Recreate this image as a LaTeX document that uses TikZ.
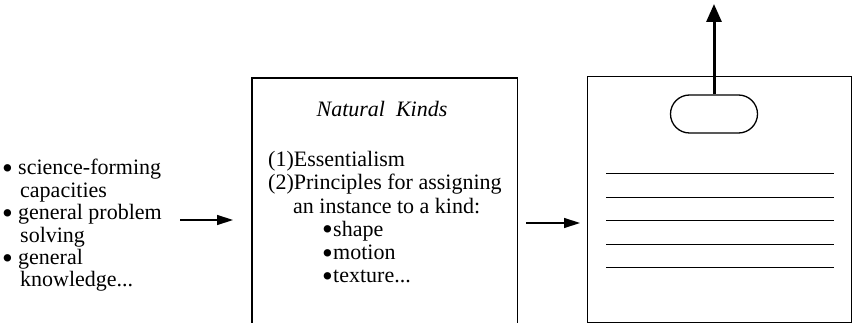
\documentclass[tikz,border=0pt]{standalone}
\usepackage{fontspec}
\setmainfont{Liberation Serif}
\usetikzlibrary{arrows.meta}

\tikzset{
  box/.style={line width=1.3pt},
  rule/.style={line width=1pt},
  flow/.style={-{Triangle[length=16pt,width=10pt]}, line width=1.4pt},
  outflow/.style={-{Triangle[length=18pt,width=15pt]}, line width=3pt},
  txt/.style={align=left, inner sep=0pt, font=\fontsize{22}{23.3}\selectfont},
}
\newcommand{\itm}[1][16pt]{\makebox[#1][l]{\raisebox{-0.16em}{\scalebox{1.4}{•}}}}

\begin{document}
\begin{tikzpicture}[x=1pt,y=-1pt]
    \useasboundingbox (0,0) rectangle (852,323);

    % sources (base = last line)
    \node[txt, font=\fontsize{22}{22.4}\selectfont, anchor=base west] (list) at (2,287)
        {\itm science-forming\\ \hspace{18pt}capacities\\
         \itm general problem\\ \hspace{18pt}solving\\
         \itm general\\ \hspace{18pt}knowledge...};

    % natural kinds box, open at the bottom
    \node[minimum width=265pt, minimum height=250pt, anchor=north west] (kinds) at (252,78) {};
    \draw[box] (kinds.south west) |- (kinds.north east) -- (kinds.south east);

    \node[txt, font=\fontsize{22}{23.3}\selectfont\itshape, anchor=base] (title) at (382,117) {Natural\ \ Kinds};

    \node[txt, anchor=base west] (principles) at (268,283)
        {(1)Essentialism\\
         (2)Principles for assigning\\
         \hspace{25pt}an instance to a kind:\\
         \hspace{54pt}\itm[11pt]shape\\
         \hspace{54pt}\itm[11pt]motion\\
         \hspace{54pt}\itm[11pt]texture...};

    % output box
    \node[draw, box, minimum width=264pt, minimum height=246pt, anchor=north west] (display) at (587,76) {};
    \node[draw, box, rounded corners=19pt, minimum width=87pt, minimum height=38pt] (icon) at (714,114) {};

    \foreach \y in {174,198,221,245,268}
        \draw[rule] (606,\y) -- (834,\y);

    % arrows
    \coordinate (in) at (180,220);
    \coordinate (mid) at (526,223);
    \coordinate (top) at (714,4);

    \draw[flow, shorten >=19pt] (in) -- (kinds.west |- in);
    \draw[flow, shorten >=7pt] (mid) -- (display.west |- mid);
    \draw[outflow] (icon.north) -- (top);
\end{tikzpicture}
\end{document}
